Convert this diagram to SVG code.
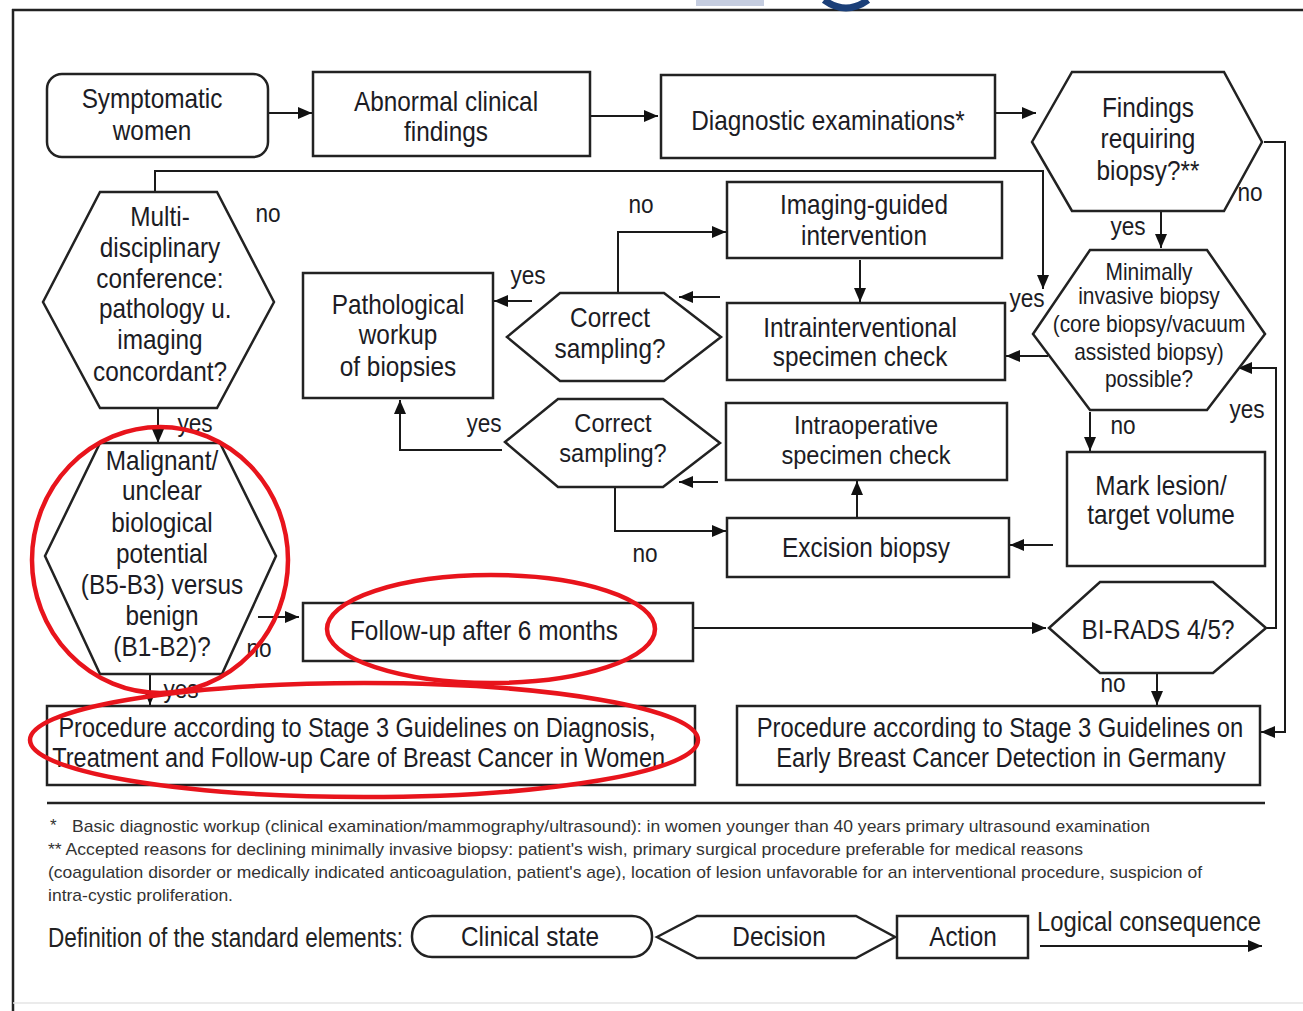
<svg xmlns="http://www.w3.org/2000/svg" width="1303" height="1011" viewBox="0 0 1303 1011">
<style>
.bg{fill:#ffffff}
.n{fill:#ffffff;stroke:#222;stroke-width:2.5}
.c{fill:none;stroke:#1a1a1a;stroke-width:2;marker-end:url(#ah)}
.t{font-family:"Liberation Sans",Arial,sans-serif;font-size:28px;fill:#1c1c24;text-anchor:middle}
.t2{font-family:"Liberation Sans",Arial,sans-serif;font-size:26.5px;fill:#1c1c24;text-anchor:middle}
.s{font-family:"Liberation Sans",Arial,sans-serif;font-size:24px;fill:#1c1c24;text-anchor:middle}
.l{font-family:"Liberation Sans",Arial,sans-serif;font-size:26px;fill:#1c1c24;text-anchor:middle}
.f{font-family:"Liberation Sans",Arial,sans-serif;font-size:17px;fill:#333}
.g{font-family:"Liberation Sans",Arial,sans-serif;font-size:27px;fill:#222}
.red{fill:none;stroke:#e8141c;stroke-width:4.5}
</style>
<defs>
<marker id="ah" markerWidth="14" markerHeight="12" refX="14" refY="6" orient="auto" markerUnits="userSpaceOnUse"><path d="M0,0 L14,6 L0,12 Z" fill="#111"/></marker>
</defs>
<rect class="bg" x="0" y="0" width="1303" height="1011"/>
<!-- frame and cropped header fragment -->
<g id="frame">
<path d="M12,10 H1303 M13,9 V1011" fill="none" stroke="#222" stroke-width="2.5"/>
<path d="M13,1003 H1303" fill="none" stroke="#e4e4e4" stroke-width="1.5"/>
<rect x="696" y="0" width="68" height="6" fill="#c5cde0"/>
<path d="M824,0 Q846,16 868,0" fill="none" stroke="#1b3f78" stroke-width="7"/>
</g>

<g id="connectors">
<path class="c" d="M268,113 H312"/>
<path class="c" d="M590,116 H658"/>
<path class="c" d="M995,113 H1036"/>
<path class="c" d="M1264,142 H1285 V732 H1261"/>
<path class="c" d="M1161,212 V248"/>
<path class="c" d="M155,192 V171 H1043 V289"/>
<path class="c" d="M1048,356 H1006"/>
<path class="c" d="M860,260 V302"/>
<path class="c" d="M720,297 H679"/>
<path class="c" d="M532,301 H494"/>
<path class="c" d="M618,293 V232 H726"/>
<path class="c" d="M1090,412 V451"/>
<path class="c" d="M1053,545 H1010"/>
<path class="c" d="M857,517 V481"/>
<path class="c" d="M718,482 H679"/>
<path class="c" d="M615,487 V531 H726"/>
<path class="c" d="M502,450 H400 V400"/>
<path class="c" d="M1266,628 H1276 V368 H1238"/>
<path class="c" d="M693,628 H1046"/>
<path class="c" d="M1157,674 V705"/>
<path class="c" d="M158,408 V443"/>
<path class="c" d="M258,617 H299"/>
<path class="c" d="M150,674 V705"/>
</g>

<g id="symptomatic">
<rect class="n" x="47" y="74" width="221" height="83" rx="15"/>
<text class="t" transform="translate(152 0) scale(0.87 1)"><tspan x="0" y="108">Symptomatic</tspan><tspan x="0" y="140">women</tspan></text>
</g>
<g id="abnormal">
<rect class="n" x="313" y="72" width="277" height="84"/>
<text class="t" transform="translate(446 0) scale(0.87 1)"><tspan x="0" y="111">Abnormal clinical</tspan><tspan x="0" y="141">findings</tspan></text>
</g>
<g id="diagnostic">
<rect class="n" x="661" y="75" width="334" height="83"/>
<text class="t" transform="translate(828 0) scale(0.87 1)"><tspan x="0" y="130">Diagnostic examinations*</tspan></text>
</g>
<g id="findings">
<polygon class="n" points="1032,142 1072,72 1224,72 1262,142 1224,211 1072,211"/>
<text class="t" transform="translate(1148 0) scale(0.87 1)"><tspan x="0" y="117">Findings</tspan><tspan x="0" y="148">requiring</tspan><tspan x="0" y="180">biopsy?**</tspan></text>
</g>
<g id="minimally">
<polygon class="n" points="1033,334 1090,250 1207,250 1265,334 1207,410 1090,410"/>
<text class="s" transform="translate(1149 0) scale(0.87 1)"><tspan x="0" y="280">Minimally</tspan><tspan x="0" y="304">invasive biopsy</tspan><tspan x="0" y="332">(core biopsy/vacuum</tspan><tspan x="0" y="360">assisted biopsy)</tspan><tspan x="0" y="387">possible?</tspan></text>
</g>
<g id="multi">
<polygon class="n" points="43,302 100,192 217,192 274,302 217,408 100,408"/>
<text class="t" transform="translate(160 0) scale(0.87 1)"><tspan x="0" y="226">Multi-</tspan><tspan x="0" y="257">disciplinary</tspan><tspan x="0" y="288">conference:</tspan><tspan x="6" y="318">pathology u.</tspan><tspan x="0" y="349">imaging</tspan><tspan x="0" y="381">concordant?</tspan></text>
</g>
<g id="pathological">
<rect class="n" x="303" y="273" width="190" height="125"/>
<text class="t" transform="translate(398 0) scale(0.87 1)"><tspan x="0" y="314">Pathological</tspan><tspan x="0" y="344">workup</tspan><tspan x="0" y="376">of biopsies</tspan></text>
</g>
<g id="imaging">
<rect class="n" x="727" y="182" width="275" height="76"/>
<text class="t" transform="translate(864 0) scale(0.87 1)"><tspan x="0" y="214">Imaging-guided</tspan><tspan x="0" y="245">intervention</tspan></text>
</g>
<g id="intrainterventional">
<rect class="n" x="727" y="303" width="278" height="77"/>
<text class="t" transform="translate(860 0) scale(0.87 1)"><tspan x="0" y="337">Intrainterventional</tspan><tspan x="0" y="366">specimen check</tspan></text>
</g>
<g id="correct1">
<polygon class="n" points="507,337 560,293 664,293 721,337 664,381 560,381"/>
<text class="t" transform="translate(610 0) scale(0.87 1)"><tspan x="0" y="327">Correct</tspan><tspan x="0" y="358">sampling?</tspan></text>
</g>
<g id="correct2">
<polygon class="n" points="505,442 558,399 663,399 720,443 663,487 558,487"/>
<text class="t2" transform="translate(613 0) scale(0.89 1)"><tspan x="0" y="432">Correct</tspan><tspan x="0" y="462">sampling?</tspan></text>
</g>
<g id="intraoperative">
<rect class="n" x="726" y="403" width="281" height="77"/>
<text class="t2" transform="translate(866 0) scale(0.89 1)"><tspan x="0" y="434">Intraoperative</tspan><tspan x="0" y="464">specimen check</tspan></text>
</g>
<g id="excision">
<rect class="n" x="727" y="518" width="282" height="59"/>
<text class="t" transform="translate(866 0) scale(0.87 1)"><tspan x="0" y="557">Excision biopsy</tspan></text>
</g>
<g id="mark">
<rect class="n" x="1067" y="452" width="198" height="114"/>
<text class="t" transform="translate(1161 0) scale(0.87 1)"><tspan x="0" y="495">Mark lesion/</tspan><tspan x="0" y="524">target volume</tspan></text>
</g>
<g id="birads">
<polygon class="n" points="1049,628 1100,582 1213,582 1266,628 1213,673 1100,673"/>
<text class="t" transform="translate(1158 0) scale(0.87 1)"><tspan x="0" y="639">BI-RADS 4/5?</tspan></text>
</g>
<g id="malignant">
<polygon class="n" points="45,556 100,443 220,443 276,556 222,674 100,674"/>
<text class="t" transform="translate(162 0) scale(0.87 1)" fill="#2a2a2a"><tspan x="0" y="470">Malignant/</tspan><tspan x="0" y="500">unclear</tspan><tspan x="0" y="532">biological</tspan><tspan x="0" y="563">potential</tspan><tspan x="0" y="594">(B5-B3) versus</tspan><tspan x="0" y="625">benign</tspan><tspan x="0" y="656">(B1-B2)?</tspan></text>
</g>
<g id="followup">
<rect class="n" x="303" y="603" width="390" height="58"/>
<text class="t" transform="translate(484 0) scale(0.87 1)"><tspan x="0" y="640">Follow-up after 6 months</tspan></text>
</g>
<g id="procedure1">
<rect class="n" x="47" y="706" width="648" height="79"/>
<text class="t" transform="translate(357 0) scale(0.84 1)"><tspan x="0" y="737">Procedure according to Stage 3 Guidelines on Diagnosis,</tspan><tspan x="2" y="767">Treatment and Follow-up Care of Breast Cancer in Women</tspan></text>
</g>
<g id="procedure2">
<rect class="n" x="737" y="706" width="523" height="79"/>
<text class="t" transform="translate(1000 0) scale(0.85 1)"><tspan x="0" y="737">Procedure according to Stage 3 Guidelines on</tspan><tspan x="1" y="767">Early Breast Cancer Detection in Germany</tspan></text>
</g>

<g id="labels">
<text class="l" transform="translate(268 0) scale(0.87 1)"><tspan x="0" y="222">no</tspan></text>
<text class="l" transform="translate(641 0) scale(0.87 1)"><tspan x="0" y="213">no</tspan></text>
<text class="l" transform="translate(528 0) scale(0.87 1)"><tspan x="0" y="284">yes</tspan></text>
<text class="l" transform="translate(1027 0) scale(0.87 1)"><tspan x="0" y="307">yes</tspan></text>
<text class="l" transform="translate(1128 0) scale(0.87 1)"><tspan x="0" y="235">yes</tspan></text>
<text class="l" transform="translate(1250 0) scale(0.87 1)"><tspan x="0" y="201">no</tspan></text>
<text class="l" transform="translate(195 0) scale(0.87 1)"><tspan x="0" y="432">yes</tspan></text>
<text class="l" transform="translate(484 0) scale(0.87 1)"><tspan x="0" y="432">yes</tspan></text>
<text class="l" transform="translate(645 0) scale(0.87 1)"><tspan x="0" y="562">no</tspan></text>
<text class="l" transform="translate(1123 0) scale(0.87 1)"><tspan x="0" y="434">no</tspan></text>
<text class="l" transform="translate(1247 0) scale(0.87 1)"><tspan x="0" y="418">yes</tspan></text>
<text class="l" transform="translate(259 0) scale(0.87 1)"><tspan x="0" y="657">no</tspan></text>
<text class="l" transform="translate(181 0) scale(0.87 1)"><tspan x="0" y="698">yes</tspan></text>
<text class="l" transform="translate(1113 0) scale(0.87 1)"><tspan x="0" y="692">no</tspan></text>
</g>

<g id="footnotes">
<path d="M47,803 H1265" stroke="#222" stroke-width="2.5"/>
<text class="f" x="50" y="831">*</text>
<text class="f" x="72" y="832" textLength="1078" lengthAdjust="spacingAndGlyphs">Basic diagnostic workup (clinical examination/mammography/ultrasound): in women younger than 40 years primary ultrasound examination</text>
<text class="f" x="48" y="855" textLength="1035" lengthAdjust="spacingAndGlyphs">** Accepted reasons for declining minimally invasive biopsy: patient's wish, primary surgical procedure preferable for medical reasons</text>
<text class="f" x="48" y="878" textLength="1154" lengthAdjust="spacingAndGlyphs">(coagulation disorder or medically indicated anticoagulation, patient's age), location of lesion unfavorable for an interventional procedure, suspicion of</text>
<text class="f" x="48" y="901" textLength="185" lengthAdjust="spacingAndGlyphs">intra-cystic proliferation.</text>
</g>

<g id="legend">
<text class="g" x="48" y="947" textLength="355" lengthAdjust="spacingAndGlyphs">Definition of the standard elements:</text>
<rect class="n" x="412" y="916" width="240" height="41" rx="20"/>
<text class="t" transform="translate(530 0) scale(0.87 1)"><tspan x="0" y="946">Clinical state</tspan></text>
<polygon class="n" points="657,937 697,916 856,916 895,937 856,958 697,958"/>
<text class="t" transform="translate(779 0) scale(0.87 1)"><tspan x="0" y="946">Decision</tspan></text>
<rect class="n" x="897" y="916" width="131" height="42"/>
<text class="t" transform="translate(963 0) scale(0.87 1)"><tspan x="0" y="946">Action</tspan></text>
<text class="g" x="1037" y="931" textLength="224" lengthAdjust="spacingAndGlyphs">Logical consequence</text>
<path class="c" d="M1040,946 H1262"/>
</g>

<g id="annotations">
<ellipse class="red" cx="160" cy="560" rx="128" ry="133"/>
<ellipse class="red" cx="491" cy="629" rx="164" ry="54"/>
<ellipse class="red" cx="364" cy="740" rx="334" ry="57"/>
</g>
</svg>
